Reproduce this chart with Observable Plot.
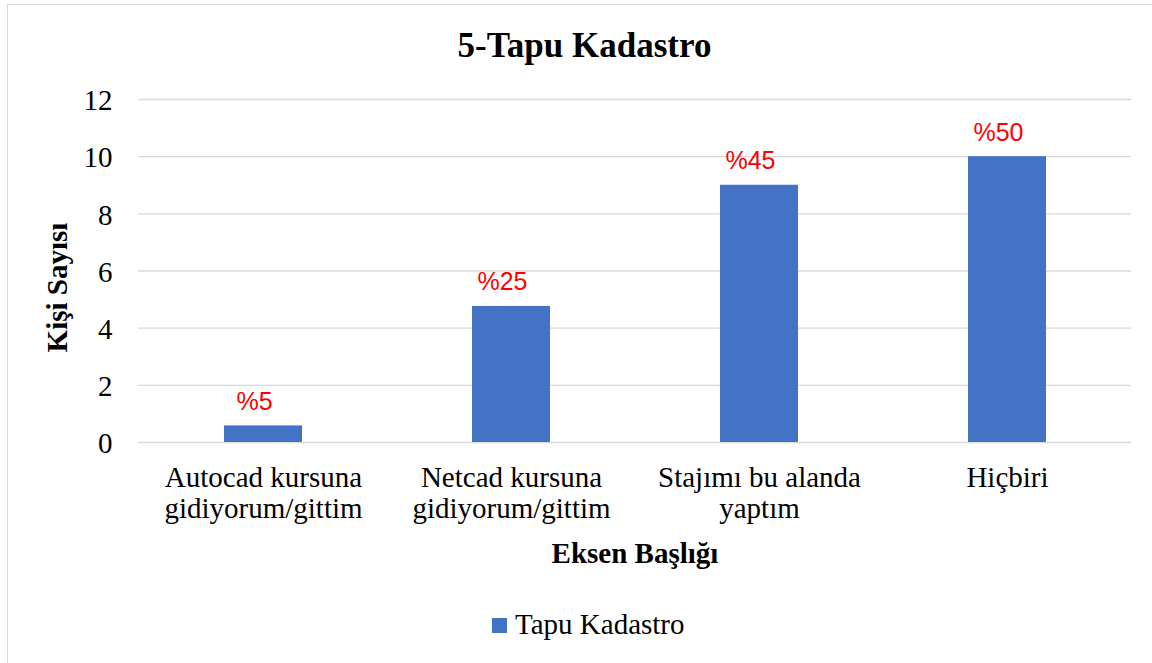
<!DOCTYPE html>
<html><head><meta charset="utf-8">
<script src="https://cdn.jsdelivr.net/npm/d3@7"></script>
<script src="https://cdn.jsdelivr.net/npm/@observablehq/plot@0.6"></script>
<style>
body{margin:0;background:#fff;}
#wrap{position:relative;width:1152px;height:663px;overflow:hidden;background:#fff;}
#frame{position:absolute;left:7px;top:4px;width:1300px;height:800px;border:1.5px solid #d9d9d9;box-sizing:border-box;}
#chart{position:absolute;left:0;top:0;}
#chart svg text{font-family:"Liberation Serif",serif;}
#chart svg g.bar-labels text{font-family:"Liberation Sans",sans-serif;}
#legend{position:absolute;left:492px;top:610px;font-family:"Liberation Serif",serif;font-size:29px;line-height:29px;white-space:nowrap;color:#000;}
#legend .sw{position:absolute;left:0;top:8px;width:15px;height:15px;}
#legend .lt{position:absolute;left:23px;top:0;}
</style></head>
<body><div id="wrap"><div id="frame"></div><div id="chart"></div><div id="legend"></div></div>
<script>
const title = "5-Tapu Kadastro";
const categories = [
  "Autocad kursuna\ngidiyorum/gittim",
  "Netcad kursuna\ngidiyorum/gittim",
  "Stajımı bu alanda\nyaptım",
  "Hiçbiri"
];
const values = [0.58, 4.76, 9, 10];
const percentLabels = ["%5", "%25", "%45", "%50"];
const yTicks = [0, 2, 4, 6, 8, 10, 12];
const yTitle = "Kişi Sayısı";
const xTitle = "Eksen Başlığı";
const seriesName = "Tapu Kadastro";
const barColor = "#4472C4";

const serif = "'Liberation Serif', serif";
const data = categories.map((c, i) => ({category: c, value: values[i], label: percentLabels[i]}));

const svg = Plot.plot({
  width: 1152, height: 663,
  marginTop: 99, marginBottom: 221, marginLeft: 138, marginRight: 21,
  style: {background: "transparent", fontFamily: serif, color: "#000", overflow: "visible"},
  x: {domain: categories, paddingInner: 0.686, paddingOuter: 0.343, label: null},
  y: {domain: [0, 12], label: null},
  marks: [
    Plot.gridY(yTicks, {stroke: "#d9d9d9", strokeOpacity: 1, strokeWidth: 1.3}),
    Plot.barY(data, {x: "category", y: "value", fill: barColor}),
    Plot.text(data, {x: "category", y: "value", text: "label", dy: -24, dx: -9, fill: "#ff0000",
      fontSize: 25, fontFamily: "'Liberation Sans', sans-serif", className: "bar-labels", ariaLabel: "bar-labels"}),
    Plot.axisY({ticks: yTicks, tickSize: 0, tickPadding: 26, fontSize: 29, fontFamily: serif, dy: 1.5, label: null}),
    Plot.axisX({tickSize: 0, tickPadding: 21.4, fontSize: 29, fontFamily: serif, lineHeight: 1.1, label: null}),
    Plot.text([xTitle], {frameAnchor: "bottom", textAnchor: "middle", lineAnchor: "bottom", dy: 120, fontSize: 29, fontFamily: serif, fontWeight: "bold"}),
    Plot.text([yTitle], {frameAnchor: "left", textAnchor: "middle", rotate: -90, lineAnchor: "bottom", dx: -71.5, dy: 16.5, fontSize: 29, fontFamily: serif, fontWeight: "bold"}),
    Plot.text([title], {frameAnchor: "top", textAnchor: "middle", lineAnchor: "bottom", dx: -50.5, dy: -42.3, fontSize: 35, fontFamily: serif, fontWeight: "bold"})
  ]
});
document.getElementById("chart").append(svg);

// white label backgrounds (as in the original data-label boxes)
const g = svg.querySelector('g[aria-label="bar-labels"]');
if (g) {
  for (const t of Array.from(g.querySelectorAll("text"))) {
    const b = t.getBBox();
    const r = document.createElementNS("http://www.w3.org/2000/svg", "rect");
    const cy = b.y + b.height / 2;
    r.setAttribute("x", b.x - 18);
    r.setAttribute("width", 118);
    r.setAttribute("y", cy - 24);
    r.setAttribute("height", 42);
    r.setAttribute("fill", "white");
    if (t.getAttribute("transform")) r.setAttribute("transform", t.getAttribute("transform"));
    g.insertBefore(r, g.firstChild);
  }
}

// legend
const lg = document.getElementById("legend");
const sw = document.createElement("div");
sw.className = "sw"; sw.style.background = barColor;
const lt = document.createElement("div");
lt.className = "lt"; lt.textContent = seriesName;
lg.append(sw, lt);
</script>
</body></html>
